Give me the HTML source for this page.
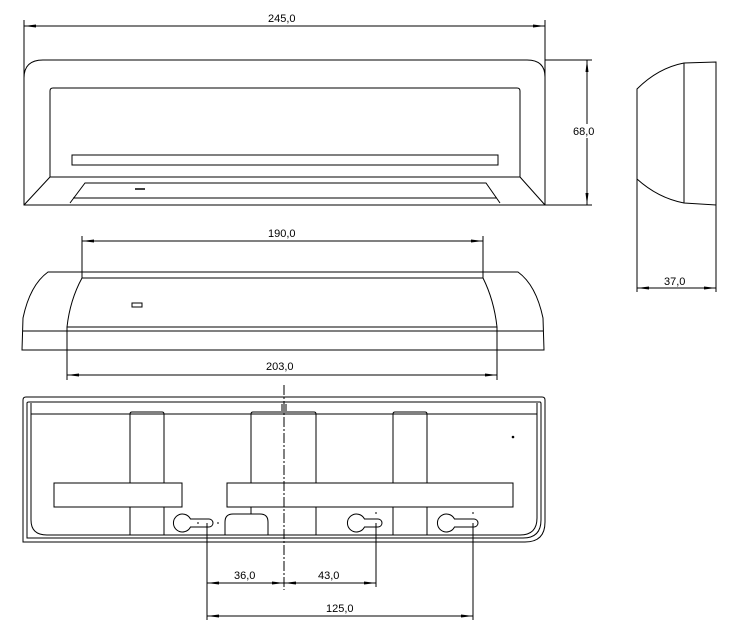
<!DOCTYPE html>
<html><head><style>html,body{margin:0;padding:0;background:#fff;}svg{display:block}</style></head>
<body>
<svg width="730" height="631" viewBox="0 0 730 631" xmlns="http://www.w3.org/2000/svg" fill="none" stroke="#000" stroke-width="1" font-family="Liberation Sans, sans-serif" font-size="11">
<defs>
<marker id="a" markerWidth="12" markerHeight="6" refX="12" refY="3" orient="auto-start-reverse" markerUnits="userSpaceOnUse"><path d="M0,1.5 L12,3 L0,4.5Z" fill="#000" stroke="none"/></marker>
</defs>
<!-- TOP VIEW -->
<line x1="24" y1="20" x2="24" y2="78"/>
<line x1="545" y1="20" x2="545" y2="205"/>
<line x1="24" y1="26" x2="545" y2="26" marker-start="url(#a)" marker-end="url(#a)"/>
<text x="268" y="22" fill="#000" stroke="none">245,0</text>
<path d="M24,205 L24,78 Q24,60 43,60 L527,60 Q545,60 545,77 L545,205 Z"/>
<path d="M50,177 L50,91 Q50,88 53,88 L517,88 Q520,88 520,91 L520,177 Z"/>
<line x1="50" y1="177" x2="24" y2="205"/>
<line x1="520" y1="177" x2="545" y2="205"/>
<rect x="72" y="155" width="426" height="10"/>
<path d="M70,203 L85,183 L486,183 L500,203"/>
<line x1="73" y1="198" x2="497" y2="198"/>
<line x1="135" y1="189" x2="145" y2="189" stroke-width="1.5"/>
<line x1="545" y1="60" x2="592" y2="60"/>
<line x1="545" y1="205" x2="592" y2="205"/>
<line x1="587" y1="60" x2="587" y2="205" marker-start="url(#a)" marker-end="url(#a)"/>
<rect x="572" y="124" width="27" height="14" fill="#fff" stroke="none"/>
<text x="573" y="135" fill="#000" stroke="none">68,0</text>
<!-- SIDE VIEW -->
<path d="M637,179 L637,89 Q658,68 684,63 L716,62 L716,205 L684,203 Q658,198 637,179"/>
<line x1="684" y1="63" x2="684" y2="203"/>
<line x1="637" y1="179" x2="637" y2="292"/>
<line x1="716" y1="205" x2="716" y2="292"/>
<line x1="637" y1="288" x2="716" y2="288" marker-start="url(#a)" marker-end="url(#a)"/>
<text x="664" y="285" fill="#000" stroke="none">37,0</text>
<!-- FRONT VIEW -->
<line x1="82" y1="236" x2="82" y2="278"/>
<line x1="483" y1="236" x2="483" y2="278"/>
<line x1="82" y1="241" x2="483" y2="241" marker-start="url(#a)" marker-end="url(#a)"/>
<text x="268" y="237" fill="#000" stroke="none">190,0</text>
<path d="M22,350 L23,318 Q30,285 48,272 L518,272 Q536,285 543,318 L544,350 Z"/>
<line x1="23" y1="331" x2="543" y2="331"/>
<path d="M67,327 Q70,300 82,278 L483,278 Q494,300 497,327 Z"/>
<rect x="132" y="303" width="10" height="4"/>
<line x1="67" y1="327" x2="67" y2="380"/>
<line x1="497" y1="327" x2="497" y2="380"/>
<line x1="67" y1="375" x2="497" y2="375" marker-start="url(#a)" marker-end="url(#a)"/>
<text x="266" y="370" fill="#000" stroke="none">203,0</text>
<!-- BOTTOM VIEW -->
<path d="M23,542 L23,400 Q23,397 26,397 L542,397 Q545,397 545,400 L545,522 Q545,542 525,542 Z"/>
<path d="M27,538 L27,403 Q27,402 29,402 L540,402 Q541,402 541,404 L541,520 Q541,538 523,538 Z"/>
<path d="M31,414 L31,403 M537,403 L537,518 Q537,535 520,535 L47,535 Q31,535 31,520 L31,414"/>
<line x1="31" y1="414" x2="537" y2="414"/>
<line x1="130" y1="414" x2="130" y2="535"/><line x1="164" y1="414" x2="164" y2="535"/>
<path d="M130,414 Q130,412 132,412 L162,412 Q164,412 164,414"/>
<line x1="251" y1="414" x2="251" y2="514"/><line x1="316" y1="414" x2="316" y2="535"/>
<path d="M251,414 Q251,412 253,412 L314,412 Q316,412 316,414"/>
<line x1="393" y1="414" x2="393" y2="535"/><line x1="427" y1="414" x2="427" y2="535"/>
<path d="M393,414 Q393,412 395,412 L425,412 Q427,412 427,414"/>
<rect x="54" y="483" width="128" height="24" fill="#fff"/>
<rect x="227" y="483" width="286" height="24" fill="#fff"/>
<path d="M225,535 L225,522 Q225,514 233,514 L260,514 Q268,514 268,522 L268,535"/>
<path d="M190.5,519 L209,519 A4,4 0 0 1 209,527 L190.5,527 A9,9 0 1 1 190.5,519 Z"/>
<path d="M364.5,519 L378,519 A4,4 0 0 1 378,527 L364.5,527 A9,9 0 1 1 364.5,519 Z"/>
<path d="M454.5,519 L474,519 A4,4 0 0 1 474,527 L454.5,527 A9,9 0 1 1 454.5,519 Z"/>
<line x1="197" y1="523" x2="199" y2="523"/><line x1="217" y1="523" x2="219" y2="523"/>
<line x1="376" y1="512" x2="376" y2="514"/><line x1="473" y1="512" x2="473" y2="514"/>
<line x1="282" y1="404" x2="282" y2="411"/><line x1="286" y1="404" x2="286" y2="411"/>
<line x1="284" y1="385" x2="284" y2="590" stroke-dasharray="10,2,2,2"/>
<circle cx="513" cy="437" r="0.8" fill="#000"/>
<line x1="207" y1="523" x2="207" y2="620"/>
<line x1="376" y1="523" x2="376" y2="587"/>
<line x1="473" y1="523" x2="473" y2="620"/>
<line x1="207" y1="583" x2="284" y2="583" marker-start="url(#a)" marker-end="url(#a)"/>
<line x1="284" y1="583" x2="376" y2="583" marker-start="url(#a)" marker-end="url(#a)"/>
<line x1="207" y1="616" x2="473" y2="616" marker-start="url(#a)" marker-end="url(#a)"/>
<text x="234" y="579" fill="#000" stroke="none">36,0</text>
<text x="318" y="579" fill="#000" stroke="none">43,0</text>
<text x="326" y="612" fill="#000" stroke="none">125,0</text>
</svg>
</body></html>
